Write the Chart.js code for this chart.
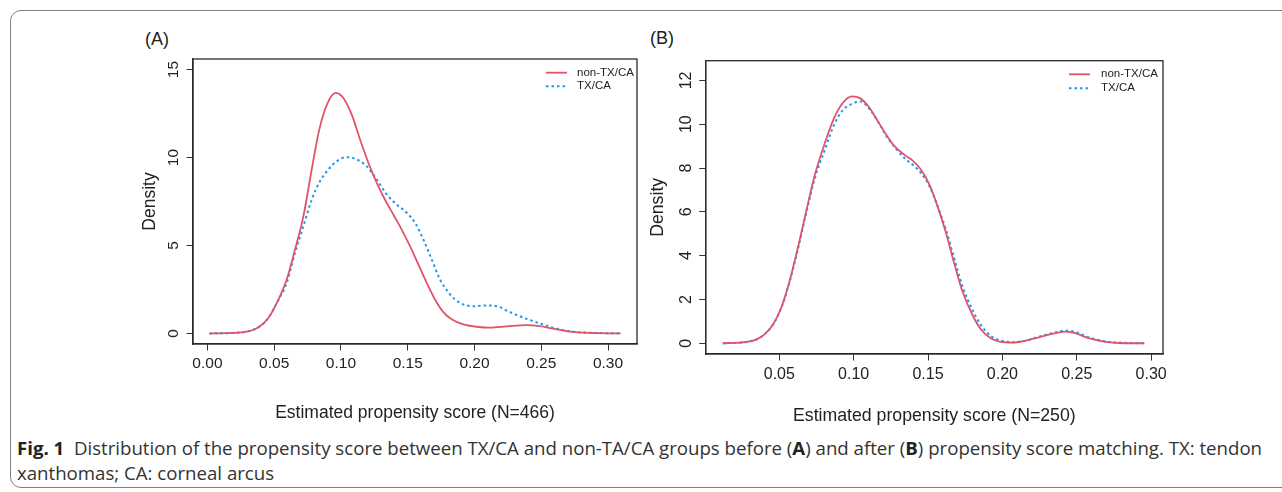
<!DOCTYPE html>
<html>
<head>
<meta charset="utf-8">
<script src="https://cdn.jsdelivr.net/npm/chart.js@4.4.1/dist/chart.umd.min.js"></script>
<style>
  html, body { margin: 0; padding: 0; background: #fff; }
  body { width: 1282px; height: 492px; position: relative; overflow: hidden; font-family: "Liberation Sans", Arial, sans-serif; }
  .frame { position: absolute; left: 10px; top: 10px; width: 1320px; height: 478px; border: 1.3px solid #808080; border-radius: 11px; box-sizing: border-box; }
  .tag { position: absolute; font-size: 18px; color: #222; line-height: 20px; }
  canvas { position: absolute; }
  .caption { position: absolute; left: 17px; top: 436px; font-family: "Open Sans", sans-serif; font-size: 17.5px; color: #333; line-height: 24.5px; white-space: nowrap; transform-origin: 0 0; }
  .caption b { font-weight: 700; color: #222; }
  .caption div { display: inline-block; }
</style>
</head>
<body>
<div class="frame"></div>
<div class="tag" style="left:145px; top:29px;">(A)</div>
<div class="tag" style="left:650px; top:28px;">(B)</div>
<canvas id="chartA" width="530" height="390" style="left:120px; top:40px;"></canvas>
<canvas id="chartB" width="560" height="390" style="left:630px; top:40px;"></canvas>
<div class="caption" id="caption">
  <div id="line1"><b>Fig. 1</b>&nbsp; Distribution of the propensity score between TX/CA and non-TA/CA groups before (<b>A</b>) and after (<b>B</b>) propensity score matching. TX: tendon</div><br>
  <div>xanthomas; CA: corneal arcus</div>
</div>
<script>
// series names
const seriesNames = ['non-TX/CA', 'TX/CA'];

// panel A - before matching (N=466)
const aNonX = [0.0015, 0.027, 0.0394, 0.0457, 0.052, 0.0594, 0.0656, 0.0719, 0.0781, 0.0838, 0.0898, 0.0961, 0.1023, 0.1085, 0.1143, 0.1205, 0.1268, 0.133, 0.1392, 0.1455, 0.1517, 0.158, 0.1642, 0.1704, 0.1767, 0.1829, 0.1916, 0.2016, 0.2116, 0.2241, 0.239, 0.249, 0.259, 0.2715, 0.2865, 0.3094];
const aNonY = [0, 0.07, 0.41, 0.89, 1.74, 3.07, 4.77, 6.67, 9.32, 11.6, 13.07, 13.67, 13.33, 12.35, 11.02, 9.7, 8.56, 7.6, 6.76, 5.9, 4.96, 3.92, 2.88, 1.93, 1.21, 0.8, 0.51, 0.38, 0.33, 0.4, 0.47, 0.41, 0.27, 0.1, 0.03, 0];
const aTxX = [0.0015, 0.027, 0.0394, 0.0457, 0.052, 0.0594, 0.0656, 0.0719, 0.0781, 0.0843, 0.0906, 0.0968, 0.1043, 0.1118, 0.1193, 0.1268, 0.1343, 0.1417, 0.1492, 0.1555, 0.1617, 0.168, 0.1742, 0.1817, 0.1891, 0.1991, 0.2091, 0.2166, 0.2266, 0.239, 0.2515, 0.2615, 0.274, 0.2915, 0.3094];
const aTxY = [0, 0.07, 0.41, 0.89, 1.74, 2.88, 4.58, 6.1, 7.6, 8.65, 9.32, 9.79, 10.02, 9.89, 9.5, 8.75, 7.9, 7.33, 6.86, 6.29, 5.34, 4.2, 3.07, 2.22, 1.74, 1.55, 1.59, 1.55, 1.21, 0.83, 0.51, 0.27, 0.1, 0.03, 0];
const aXTicks = [0, 0.05, 0.10, 0.15, 0.20, 0.25, 0.30];
const aYTicks = [0, 5, 10, 15];

// panel B - after matching (N=250)
const bNonX = [0.012, 0.0281, 0.0348, 0.0404, 0.046, 0.0516, 0.0571, 0.0627, 0.0683, 0.0739, 0.0806, 0.0868, 0.0929, 0.0989, 0.1045, 0.1107, 0.1163, 0.1219, 0.1281, 0.1342, 0.1397, 0.1453, 0.151, 0.1565, 0.1621, 0.1676, 0.1732, 0.1799, 0.1855, 0.1922, 0.1989, 0.2067, 0.2156, 0.2246, 0.2335, 0.2424, 0.2491, 0.258, 0.2692, 0.2826, 0.2955];
const bNonY = [0, 0.06, 0.18, 0.43, 0.88, 1.68, 2.89, 4.42, 6.09, 7.69, 9.14, 10.28, 10.99, 11.27, 11.18, 10.74, 10.13, 9.52, 8.95, 8.6, 8.34, 7.92, 7.23, 6.24, 5.03, 3.65, 2.36, 1.29, 0.64, 0.23, 0.06, 0.03, 0.12, 0.27, 0.43, 0.53, 0.46, 0.23, 0.06, 0, 0];
const bTxX = [0.012, 0.0281, 0.0348, 0.0404, 0.046, 0.0516, 0.0571, 0.0627, 0.0683, 0.0739, 0.0806, 0.0868, 0.0929, 0.0989, 0.1045, 0.1107, 0.1163, 0.1219, 0.1281, 0.1342, 0.1397, 0.1453, 0.151, 0.1565, 0.1621, 0.1676, 0.1732, 0.1799, 0.1855, 0.1922, 0.1989, 0.2067, 0.2156, 0.2246, 0.2335, 0.2424, 0.2491, 0.258, 0.2692, 0.2826, 0.2955];
const bTxY = [0, 0.06, 0.18, 0.43, 0.88, 1.66, 2.85, 4.35, 6.01, 7.54, 8.83, 9.97, 10.66, 10.93, 11.04, 10.69, 10.13, 9.47, 8.91, 8.45, 8.15, 7.77, 7.16, 6.24, 5.18, 3.88, 2.59, 1.52, 0.84, 0.34, 0.12, 0.05, 0.12, 0.3, 0.46, 0.58, 0.52, 0.27, 0.09, 0.02, 0];
const bXTicks = [0.05, 0.10, 0.15, 0.20, 0.25, 0.30];
const bYTicks = [0, 2, 4, 6, 8, 10, 12];

const RED = '#DF536B';
const BLUE = '#2297E6';
const INK = '#222';

Chart.defaults.font.family = '"Liberation Sans", Arial, sans-serif';
Chart.defaults.color = INK;

function pts(xs, ys) {
  return xs.map((x, i) => ({ x: x, y: ys[i] }));
}

// box around the plot area and the legend in its top right corner
const boxAndKey = {
  id: 'boxAndKey',
  afterDraw(chart, args, o) {
    const { ctx, chartArea: a } = chart;
    ctx.save();
    ctx.strokeStyle = '#2a2a2a';
    ctx.lineWidth = 1.3;
    ctx.strokeRect(a.left, a.top, a.right - a.left, a.bottom - a.top);
    ctx.font = o.fontSize + 'px "Liberation Sans", Arial, sans-serif';
    ctx.textBaseline = 'middle';
    ctx.textAlign = 'left';
    chart.data.datasets.forEach((ds, i) => {
      const y = a.top + o.top + i * o.gap;
      ctx.strokeStyle = ds.borderColor;
      ctx.lineWidth = ds.borderWidth;
      ctx.setLineDash(ds.borderDash || []);
      ctx.beginPath();
      ctx.moveTo(a.right - o.lineFrom, y);
      ctx.lineTo(a.right - o.lineFrom + 21, y);
      ctx.stroke();
      ctx.setLineDash([]);
      ctx.fillStyle = INK;
      ctx.fillText(ds.label, a.right - o.textFrom, y);
    });
    ctx.restore();
  }
};

function makeChart(id, p) {
  return new Chart(document.getElementById(id), {
    type: 'line',
    data: {
      datasets: [
        { label: seriesNames[0], data: pts(p.nonX, p.nonY), borderColor: RED, borderWidth: 1.8, pointRadius: 0, fill: false, cubicInterpolationMode: 'monotone' },
        { label: seriesNames[1], data: pts(p.txX, p.txY), borderColor: BLUE, borderWidth: 2, borderDash: [2.5, 3], pointRadius: 0, fill: false, cubicInterpolationMode: 'monotone' }
      ]
    },
    options: {
      responsive: false,
      animation: false,
      events: [],
      layout: { padding: p.pad },
      plugins: {
        legend: { display: false },
        tooltip: { enabled: false },
        boxAndKey: p.key
      },
      scales: {
        x: {
          type: 'linear',
          min: p.xMin, max: p.xMax,
          afterBuildTicks: s => { s.ticks = p.xTicks.map(v => ({ value: v })); },
          afterFit: s => { s.height = p.xAxisH; },
          ticks: { callback: v => v.toFixed(2), font: { size: p.tickSize }, padding: p.xTickPad, color: INK, maxRotation: 0 },
          grid: { drawOnChartArea: false, drawTicks: true, tickLength: 6.5, color: '#333', lineWidth: 1 },
          border: { display: true, color: '#2a2a2a', width: 1.3 },
          title: { display: true, text: p.xTitle, font: { size: p.titleSize }, color: INK, padding: { top: 0, bottom: p.xTitlePad } }
        },
        y: {
          type: 'linear',
          min: p.yMin, max: p.yMax,
          afterBuildTicks: s => { s.ticks = p.yTicks.map(v => ({ value: v })); },
          afterFit: s => { s.width = p.yAxisW; },
          ticks: { callback: v => String(v), font: { size: p.tickSize }, padding: 4, color: INK, minRotation: 90, maxRotation: 90, crossAlign: 'center' },
          grid: { drawOnChartArea: false, drawTicks: true, tickLength: 6.5, color: '#333', lineWidth: 1 },
          border: { display: true, color: '#2a2a2a', width: 1.3 },
          title: { display: true, text: 'Density', font: { size: p.titleSize }, color: INK, padding: { top: p.yTitlePad, bottom: 0 } }
        }
      }
    },
    plugins: [boxAndKey]
  });
}

makeChart('chartA', {
  nonX: aNonX, nonY: aNonY, txX: aTxX, txY: aTxY,
  xTicks: aXTicks, yTicks: aYTicks,
  xMin: -0.0108, xMax: 0.3217, yMin: -0.6, yMax: 15.6,
  pad: { top: 19, right: 13, left: 0, bottom: 0 },
  xAxisH: 86, yAxisW: 73,
  tickSize: 15.5, titleSize: 17.5, xTickPad: 4, xTitlePad: 6.5, yTitlePad: 19.5,
  xTitle: 'Estimated propensity score (N=466)',
  key: { top: 13.7, gap: 13.5, lineFrom: 91, textFrom: 60, fontSize: 11.5 }
});

makeChart('chartB', {
  nonX: bNonX, nonY: bNonY, txX: bTxX, txY: bTxY,
  xTicks: bXTicks, yTicks: bYTicks,
  xMin: 0.0005, xMax: 0.308, yMin: -0.49, yMax: 12.9,
  pad: { top: 20.7, right: 27, left: 0, bottom: 0 },
  xAxisH: 76, yAxisW: 75.7,
  tickSize: 16, titleSize: 17.7, xTickPad: 4.4, xTitlePad: 3, yTitlePad: 17.4,
  xTitle: 'Estimated propensity score (N=250)',
  key: { top: 13.6, gap: 14, lineFrom: 94, textFrom: 62, fontSize: 11.5 }
});

// squeeze the caption so its first line spans the same width as in the figure
(function fitCaption() {
  const cap = document.getElementById('caption');
  const w = document.getElementById('line1').getBoundingClientRect().width;
  cap.style.transform = 'scaleX(' + (1245 / w).toFixed(4) + ')';
})();
</script>
</body>
</html>
